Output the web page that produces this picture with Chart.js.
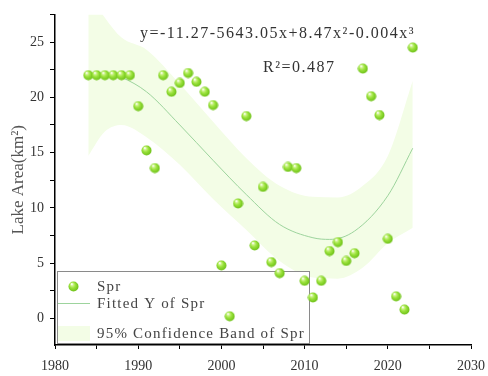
<!DOCTYPE html>
<html>
<head>
<meta charset="utf-8">
<script src="https://cdn.jsdelivr.net/npm/chart.js@4.4.1/dist/chart.umd.min.js"></script>
<style>
    html, body { margin: 0; padding: 0; background: #fff; }
    canvas { display: block; }
</style>
</head>
<body>
<canvas id="graficoLago" width="488" height="376"></canvas>
<script>
const anos = [
    1984, 1985, 1986, 1987, 1988, 1989, 1990, 1991, 1992, 1993,
    1994, 1995, 1996, 1997, 1998, 1999, 2000, 2001, 2002, 2003,
    2004, 2005, 2006, 2007, 2008, 2009, 2010, 2011, 2012, 2013,
    2014, 2015, 2016, 2017, 2018, 2019, 2020, 2021, 2022, 2023
];
const areas = [
    22.0, 22.0, 22.0, 22.0, 22.0, 22.0, 19.2, 15.2, 13.6, 22.0,
    20.5, 21.3, 22.2, 21.4, 20.5, 19.3, 4.8, 0.2, 10.4, 18.3,
    6.6, 11.9, 5.1, 4.1, 13.7, 13.6, 3.4, 1.9, 3.4, 6.1,
    6.9, 5.2, 5.9, 22.6, 20.1, 18.4, 7.2, 2.0, 0.8, 24.5
];

// curva ajustada
const anosAjuste = [1984, 1986, 1988, 1991, 1995, 1999, 2003, 2007, 2011, 2013, 2016, 2020, 2023];
const valoresAjuste = [22.1, 22.2, 21.8, 20.5, 17.5, 14.3, 11.2, 8.5, 7.3, 7.15, 7.9, 11.1, 15.4];

// banda de confiança 95%
const anosBanda = [1984, 1986, 1988, 1991, 1995, 1999, 2003, 2007, 2011, 2014, 2017, 2020, 2023];
const bandaSuperior = [29.5, 27.2, 25.4, 24.3, 21.2, 17.8, 14.5, 12.0, 11.0, 10.95, 12.0, 14.7, 21.5];
const bandaInferior = [14.7, 16.9, 17.5, 16.4, 13.9, 10.8, 8.0, 5.2, 3.7, 3.6, 4.6, 6.8, 8.2];

const ticksX = [1980, 1985, 1990, 1995, 2000, 2005, 2010, 2015, 2020, 2025, 2030];
const ticksY = [0, 2.5, 5, 7.5, 10, 12.5, 15, 17.5, 20, 22.5, 25, 27.5];

const equacao = 'y=-11.27-5643.05x+8.47x²-0.004x³';
const textoR2 = 'R²=0.487';
const legendas = ['Spr', 'Fitted Y of Spr', '95% Confidence Band of Spr'];

const corLinha = '#9dd49d';
const corBanda = '#f3fde6';
const fonteSerif = '"Liberation Serif", "DejaVu Serif", serif';

const pares = (xs, ys) => xs.map((x, i) => ({ x, y: ys[i] }));

// bolinha verde com brilho
function criarEsfera(r) {
    const c = document.createElement('canvas');
    c.width = c.height = r * 2 + 1;
    const g = c.getContext('2d');
    const grad = g.createRadialGradient(r * 0.75, r * 0.6, 0.4, r, r, r);
    grad.addColorStop(0, '#ffffff');
    grad.addColorStop(0.22, '#cdf38a');
    grad.addColorStop(0.55, '#9be33c');
    grad.addColorStop(1, '#74c51e');
    g.fillStyle = grad;
    g.beginPath();
    g.arc(r + 0.5, r + 0.5, r, 0, Math.PI * 2);
    g.fill();
    return c;
}
const esfera = criarEsfera(5);

const legendaPlugin = {
    id: 'legendaCaixa',
    afterDatasetDraw(chart, args) {
        if (args.index !== 1) return;
        const ctx = chart.ctx;
        const x0 = 57, y0 = 271, w = 252, h = 72;
        ctx.save();
        ctx.fillStyle = '#fff';
        ctx.fillRect(x0, y0, w, h);
        ctx.strokeStyle = '#8a8a8a';
        ctx.lineWidth = 1;
        ctx.strokeRect(x0 + 0.5, y0 + 0.5, w, h);

        ctx.drawImage(esfera, 68, 281);
        ctx.strokeStyle = corLinha;
        ctx.beginPath();
        ctx.moveTo(58, 303.5);
        ctx.lineTo(90, 303.5);
        ctx.stroke();
        ctx.fillStyle = corBanda;
        ctx.fillRect(58, 326, 32, 15);

        ctx.fillStyle = '#444';
        ctx.font = '15px ' + fonteSerif;
        ctx.letterSpacing = '1.2px';
        ctx.textBaseline = 'middle';
        ctx.fillText(legendas[0], 97, 287);
        ctx.fillText(legendas[1], 97, 304);
        ctx.fillText(legendas[2], 97, 334);
        ctx.restore();
    }
};

const equacaoPlugin = {
    id: 'equacao',
    afterDraw(chart) {
        const ctx = chart.ctx;
        ctx.save();
        ctx.fillStyle = '#333';
        ctx.font = '16px ' + fonteSerif;
        ctx.letterSpacing = '1.5px';
        ctx.textBaseline = 'middle';
        ctx.fillText(equacao, 140, 34);
        ctx.fillText(textoR2, 263, 68);
        ctx.restore();
    }
};

const ctx = document.getElementById('graficoLago').getContext('2d');

new Chart(ctx, {
    type: 'scatter',
    data: {
        datasets: [
            {
                label: legendas[0],
                data: pares(anos, areas),
                pointStyle: esfera,
                pointRadius: 5,
                showLine: false
            },
            {
                label: legendas[1],
                data: pares(anosAjuste, valoresAjuste),
                showLine: true,
                borderColor: corLinha,
                borderWidth: 1,
                pointRadius: 0,
                cubicInterpolationMode: 'monotone'
            },
            {
                label: 'upper',
                data: pares(anosBanda, bandaSuperior),
                showLine: true,
                borderWidth: 0,
                borderColor: 'rgba(0,0,0,0)',
                pointRadius: 0,
                cubicInterpolationMode: 'monotone'
            },
            {
                label: legendas[2],
                data: pares(anosBanda, bandaInferior),
                showLine: true,
                borderWidth: 0,
                borderColor: 'rgba(0,0,0,0)',
                backgroundColor: corBanda,
                pointRadius: 0,
                cubicInterpolationMode: 'monotone',
                fill: '-1'
            }
        ]
    },
    options: {
        responsive: false,
        animation: false,
        layout: { padding: { top: 10, right: 17, left: 0, bottom: 0 } },
        plugins: {
            legend: { display: false },
            tooltip: { enabled: false }
        },
        scales: {
            x: {
                type: 'linear',
                min: 1980,
                max: 2030,
                afterBuildTicks: s => { s.ticks = ticksX.map(v => ({ value: v })); },
                afterFit: s => { s.height = 31; s.paddingLeft = 0; s.paddingRight = 0; },
                border: { color: '#000', width: 1.5 },
                grid: { drawOnChartArea: false, tickLength: 4, color: '#000' },
                ticks: {
                    color: '#333',
                    padding: 9,
                    maxRotation: 0,
                    font: { family: fonteSerif, size: 14 },
                    callback: v => (v % 10 === 0 ? v : '')
                }
            },
            y: {
                min: -2.4,
                max: 27.5,
                afterBuildTicks: s => { s.ticks = ticksY.map(v => ({ value: v })); },
                afterFit: s => { s.width = 55; },
                border: { color: '#000', width: 1.5 },
                grid: { drawOnChartArea: false, tickLength: 5, color: '#000' },
                ticks: {
                    color: '#333',
                    padding: 6,
                    font: { family: fonteSerif, size: 14 },
                    callback: v => (v % 5 === 0 ? v : '')
                },
                title: {
                    display: true,
                    text: 'Lake Area(km²)',
                    color: '#555',
                    padding: { top: 8, bottom: 0 },
                    font: { family: fonteSerif, size: 17 }
                }
            }
        }
    },
    plugins: [legendaPlugin, equacaoPlugin]
});
</script>
</body>
</html>
